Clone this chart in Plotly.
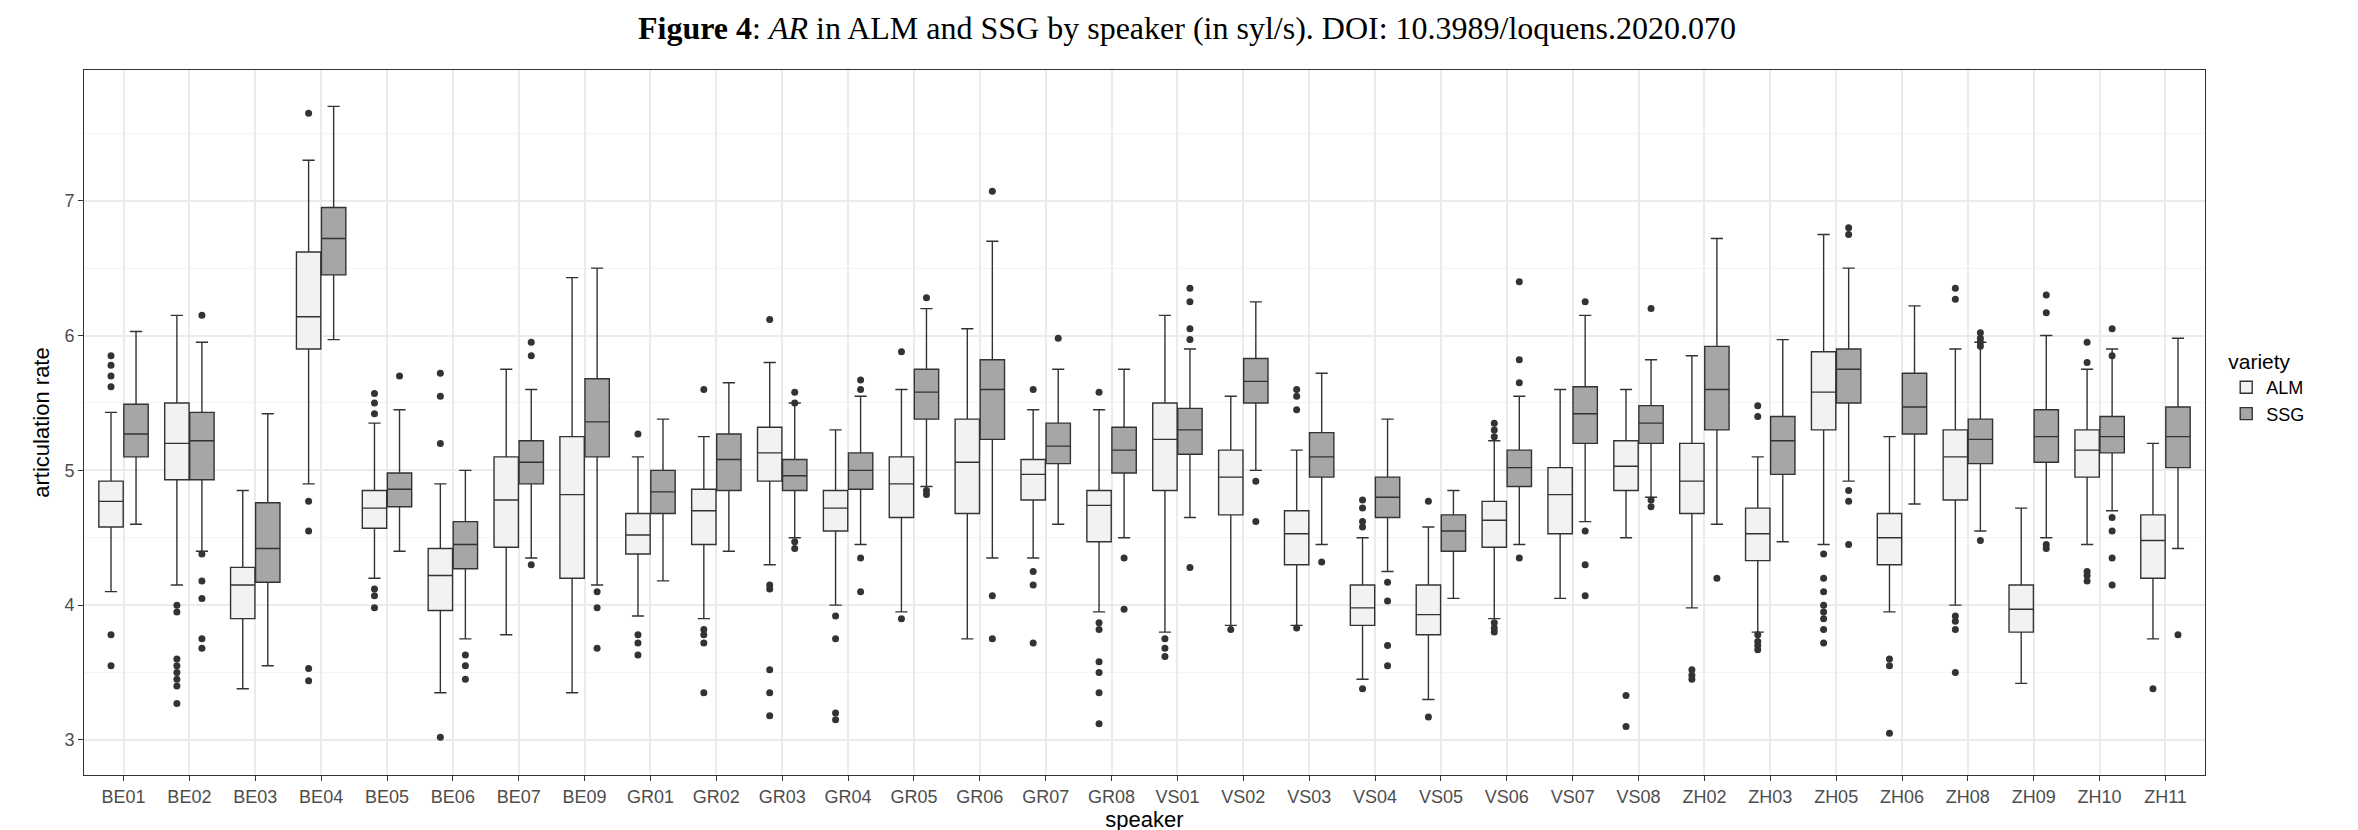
import plotly.graph_objects as go

speakers = ["BE01", "BE02", "BE03", "BE04", "BE05", "BE06", "BE07", "BE09",
            "GR01", "GR02", "GR03", "GR04", "GR05", "GR06", "GR07", "GR08",
            "VS01", "VS02", "VS03", "VS04", "VS05", "VS06", "VS07", "VS08",
            "ZH02", "ZH03", "ZH05", "ZH06", "ZH08", "ZH09", "ZH10", "ZH11"]

# (lower whisker, q1, median, q3, upper whisker)
alm_stats = [
    (4.10, 4.58, 4.77, 4.92, 5.43), (4.15, 4.93, 5.20, 5.50, 6.15),
    (3.38, 3.90, 4.15, 4.28, 4.85), (4.90, 5.90, 6.14, 6.62, 7.30),
    (4.20, 4.57, 4.72, 4.85, 5.35), (3.35, 3.96, 4.22, 4.42, 4.90),
    (3.78, 4.43, 4.78, 5.10, 5.75), (3.35, 4.20, 4.82, 5.25, 6.43),
    (3.92, 4.38, 4.52, 4.68, 5.10), (3.90, 4.45, 4.70, 4.86, 5.25),
    (4.30, 4.92, 5.13, 5.32, 5.80), (4.00, 4.55, 4.72, 4.85, 5.30),
    (3.95, 4.65, 4.90, 5.10, 5.60), (3.75, 4.68, 5.06, 5.38, 6.05),
    (4.35, 4.78, 4.97, 5.08, 5.45), (3.95, 4.47, 4.74, 4.85, 5.45),
    (3.80, 4.85, 5.23, 5.50, 6.15), (3.85, 4.67, 4.95, 5.15, 5.55),
    (3.85, 4.30, 4.53, 4.70, 5.15), (3.45, 3.85, 3.98, 4.15, 4.50),
    (3.30, 3.78, 3.93, 4.15, 4.58), (3.90, 4.43, 4.63, 4.77, 5.22),
    (4.05, 4.53, 4.82, 5.02, 5.60), (4.50, 4.85, 5.03, 5.22, 5.60),
    (3.98, 4.68, 4.92, 5.20, 5.85), (3.80, 4.33, 4.53, 4.72, 5.10),
    (4.45, 5.30, 5.58, 5.88, 6.75), (3.95, 4.30, 4.50, 4.68, 5.25),
    (4.00, 4.78, 5.10, 5.30, 5.90), (3.42, 3.80, 3.97, 4.15, 4.72),
    (4.45, 4.95, 5.15, 5.30, 5.75), (3.75, 4.20, 4.48, 4.67, 5.20),
]
ssg_stats = [
    (4.60, 5.10, 5.27, 5.49, 6.03), (4.40, 4.93, 5.22, 5.43, 5.95),
    (3.55, 4.17, 4.42, 4.76, 5.42), (5.97, 6.45, 6.72, 6.95, 7.70),
    (4.40, 4.73, 4.86, 4.98, 5.45), (3.75, 4.27, 4.45, 4.62, 5.00),
    (4.35, 4.90, 5.06, 5.22, 5.60), (4.15, 5.10, 5.36, 5.68, 6.50),
    (4.18, 4.68, 4.84, 5.00, 5.38), (4.40, 4.85, 5.08, 5.27, 5.65),
    (4.50, 4.85, 4.96, 5.08, 5.50), (4.45, 4.86, 5.00, 5.13, 5.55),
    (4.88, 5.38, 5.58, 5.75, 6.20), (4.35, 5.23, 5.60, 5.82, 6.70),
    (4.60, 5.05, 5.18, 5.35, 5.75), (4.50, 4.98, 5.15, 5.32, 5.75),
    (4.65, 5.12, 5.30, 5.46, 5.90), (5.00, 5.50, 5.66, 5.83, 6.25),
    (4.45, 4.95, 5.10, 5.28, 5.72), (4.25, 4.65, 4.80, 4.95, 5.38),
    (4.05, 4.40, 4.55, 4.67, 4.85), (4.45, 4.88, 5.02, 5.15, 5.55),
    (4.62, 5.20, 5.42, 5.62, 6.15), (4.80, 5.20, 5.35, 5.48, 5.82),
    (4.60, 5.30, 5.60, 5.92, 6.72), (4.47, 4.97, 5.22, 5.40, 5.97),
    (4.92, 5.50, 5.75, 5.90, 6.50), (4.75, 5.27, 5.47, 5.72, 6.22),
    (4.55, 5.05, 5.23, 5.38, 5.95), (4.50, 5.06, 5.25, 5.45, 6.00),
    (4.70, 5.13, 5.25, 5.40, 5.90), (4.42, 5.02, 5.25, 5.47, 5.98),
]
alm_outliers = [
    [5.85, 5.78, 5.70, 5.62, 3.78, 3.55], [4.00, 3.95, 3.60, 3.55, 3.50, 3.45, 3.40, 3.27],
    [], [7.65, 4.77, 4.55, 3.53, 3.44], [5.57, 5.50, 5.42, 4.12, 4.07, 3.98],
    [5.72, 5.55, 5.20, 3.02], [], [], [5.27, 3.78, 3.72, 3.63],
    [5.60, 3.82, 3.78, 3.72, 3.35], [6.12, 4.15, 4.12, 3.52, 3.35, 3.18],
    [3.92, 3.75, 3.20, 3.15], [5.88, 3.90], [], [5.60, 4.25, 4.15, 3.72],
    [5.58, 3.87, 3.82, 3.58, 3.50, 3.35, 3.12], [3.75, 3.68, 3.62], [3.82],
    [5.60, 5.55, 5.45, 3.83], [4.78, 4.72, 4.62, 4.58, 3.38], [4.77, 3.17],
    [5.35, 5.30, 5.25, 3.87, 3.83, 3.80], [], [3.33, 3.10], [3.52, 3.48, 3.45],
    [5.48, 5.40, 3.78, 3.73, 3.70, 3.67], [4.38, 4.20, 4.10, 4.00, 3.95, 3.90, 3.82, 3.72],
    [3.60, 3.55, 3.05], [6.35, 6.27, 3.92, 3.88, 3.82, 3.50], [],
    [5.95, 5.80, 4.25, 4.22, 4.18], [3.38],
]
ssg_outliers = [
    [], [6.15, 4.38, 4.18, 4.05, 3.75, 3.68], [], [], [5.70], [3.63, 3.55, 3.45],
    [5.95, 5.85, 4.30], [4.10, 3.98, 3.68], [], [], [5.58, 5.50, 4.47, 4.42],
    [5.67, 5.60, 4.35, 4.10], [6.28, 4.85, 4.82], [7.07, 4.07, 3.75], [5.98],
    [4.35, 3.97], [6.35, 6.25, 6.05, 5.97, 4.28], [4.92, 4.62], [4.32],
    [4.17, 4.03, 3.70, 3.55], [], [6.40, 5.82, 5.65, 4.35], [6.25, 4.55, 4.30, 4.07],
    [6.20, 4.78, 4.73], [4.20], [], [6.80, 6.75, 4.85, 4.77, 4.45], [],
    [6.02, 5.98, 5.95, 5.92, 4.48], [6.30, 6.17, 4.45, 4.42],
    [6.05, 5.85, 4.65, 4.55, 4.35, 4.15], [3.78],
]

LINE = "#333333"
DODGE = 0.19
BOX_W = 0.37

fig = go.Figure()
for name, stats, outs, off, fill in [
    ("ALM", alm_stats, alm_outliers, -DODGE, "#f2f2f2"),
    ("SSG", ssg_stats, ssg_outliers, DODGE, "#a6a6a6"),
]:
    xs = [i + off for i in range(len(speakers))]
    fig.add_trace(go.Box(
        x=xs,
        lowerfence=[s[0] for s in stats],
        q1=[s[1] for s in stats],
        median=[s[2] for s in stats],
        q3=[s[3] for s in stats],
        upperfence=[s[4] for s in stats],
        width=BOX_W,
        boxpoints=False,
        fillcolor=fill,
        line=dict(color=LINE, width=1.4),
        name=name,
        hoverinfo="skip",
    ))
    ox, oy = [], []
    for x, vals in zip(xs, outs):
        ox.extend([x] * len(vals))
        oy.extend(vals)
    fig.add_trace(go.Scatter(
        x=ox, y=oy, mode="markers",
        marker=dict(color=LINE, size=7),
        showlegend=False,
    ))

fig.update_layout(
    width=2358, height=830,
    margin=dict(l=76, r=161, t=62, b=59),
    paper_bgcolor="white", plot_bgcolor="white",
    font=dict(family="Liberation Sans, Arial", size=18, color="#4d4d4d"),
    title=dict(
        text="<b>Figure 4</b>: <i>AR</i> in ALM and SSG by speaker (in syl/s). DOI: 10.3989/loquens.2020.070",
        x=0.5, xanchor="center", y=0.99, yanchor="top",
        font=dict(family="Liberation Serif, Times New Roman", size=32, color="black"),
    ),
    legend=dict(
        title=dict(text="variety", font=dict(size=21, color="black")),
        font=dict(size=18, color="black"),
        x=1.01, xanchor="left", y=0.55, yanchor="middle",
    ),
    xaxis=dict(
        range=[-0.6, len(speakers) - 0.4],
        tickvals=list(range(len(speakers))), ticktext=speakers,
        showgrid=True, gridcolor="#ebebeb", gridwidth=1.5,
        ticks="outside", ticklen=5, tickcolor="#333333",
        showline=True, linecolor="#333333", mirror=True, zeroline=False,
        title=dict(text="speaker", font=dict(size=22, color="black"), standoff=4),
        tickfont=dict(size=18, color="#4d4d4d"),
    ),
    yaxis=dict(
        range=[2.74, 7.97],
        tickvals=[3, 4, 5, 6, 7],
        showgrid=True, gridcolor="#ebebeb", gridwidth=1.5,
        minor=dict(tickvals=[3.5, 4.5, 5.5, 6.5, 7.5], showgrid=True, gridcolor="#f4f4f4", gridwidth=1),
        ticks="outside", ticklen=5, tickcolor="#333333",
        showline=True, linecolor="#333333", mirror=True, zeroline=False,
        title=dict(text="articulation rate", font=dict(size=22, color="black"), standoff=8),
        tickfont=dict(size=18, color="#4d4d4d"),
    ),
)

fig.write_html("out.html")
